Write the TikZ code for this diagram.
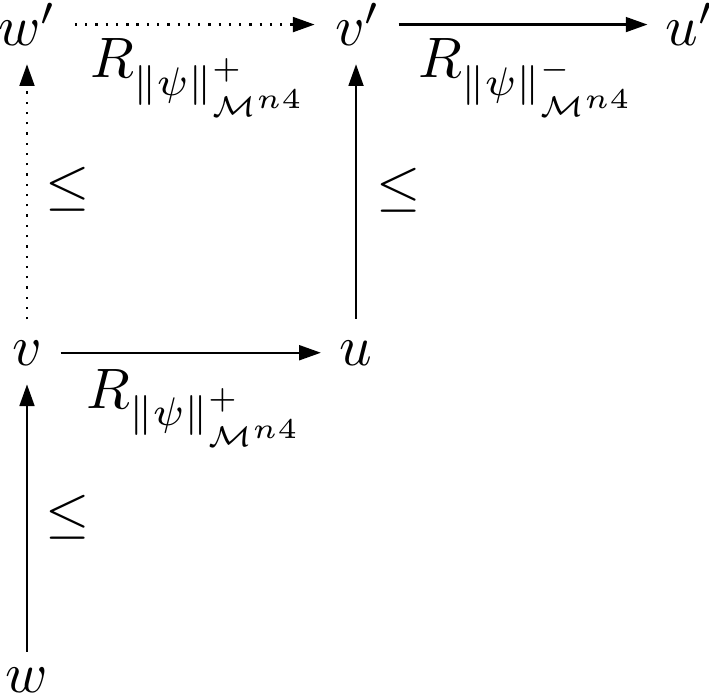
\documentclass[tikz,border=0pt]{standalone}
\usepackage{amsmath,amssymb}
\usetikzlibrary{arrows.meta}
\begin{document}
\begin{tikzpicture}[x=0.1754pt,y=-0.1754pt,
  vtx/.style={inner sep=0pt,anchor=base},
  lbl/.style={inner sep=0pt,anchor=base west},
  rel/.style={inner sep=0pt,anchor=base},
  arr/.style={line width=0.4pt,-{Triangle[length=3.8pt,width=2.6pt]}},
  dotarr/.style={arr,dash pattern=on 0.4pt off 1.4pt}]
\useasboundingbox (0,0) rectangle (709,696);
\node[vtx] (wp) at (27.5,46) {$w'$};
\node[vtx] (vp) at (358,46) {$v'$};
\node[vtx] (up) at (690,46) {$u'$};
\node[vtx] (v) at (27,365) {$v$};
\node[vtx] (u) at (356,365) {$u$};
\node[vtx] (w) at (27,692) {$w$};
\node[lbl] (l1) at (89,78) {$R_{\|\psi\|^+_{\mathcal{M}^{n4}}}$};
\node[lbl] (l2) at (417,78) {$R_{\|\psi\|^-_{\mathcal{M}^{n4}}}$};
\node[lbl] (l3) at (85,408) {$R_{\|\psi\|^+_{\mathcal{M}^{n4}}}$};
\node[rel] (le1) at (67.5,204) {$\leq$};
\node[rel] (le2) at (398.5,205) {$\leq$};
\node[rel] (le3) at (67.5,531) {$\leq$};
\draw[dotarr,shorten <=3pt,shorten >=3.4pt] (wp.east) -- (vp.west);
\draw[arr,shorten <=2.9pt,shorten >=3pt] (vp.east) -- (up.west);
\draw[arr,shorten <=3.1pt,shorten >=3.1pt] (v.east) -- (u.west);
\draw[arr,shorten <=2.6pt,shorten >=3.2pt] (w.north) -- (w.north |- v.south);
\draw[dotarr,shorten <=3.5pt,shorten >=3pt] (v.north) -- (v.north |- wp.south);
\draw[arr,shorten <=3.6pt,shorten >=3pt] (u.north) -- (u.north |- vp.south);
\end{tikzpicture}
\end{document}
